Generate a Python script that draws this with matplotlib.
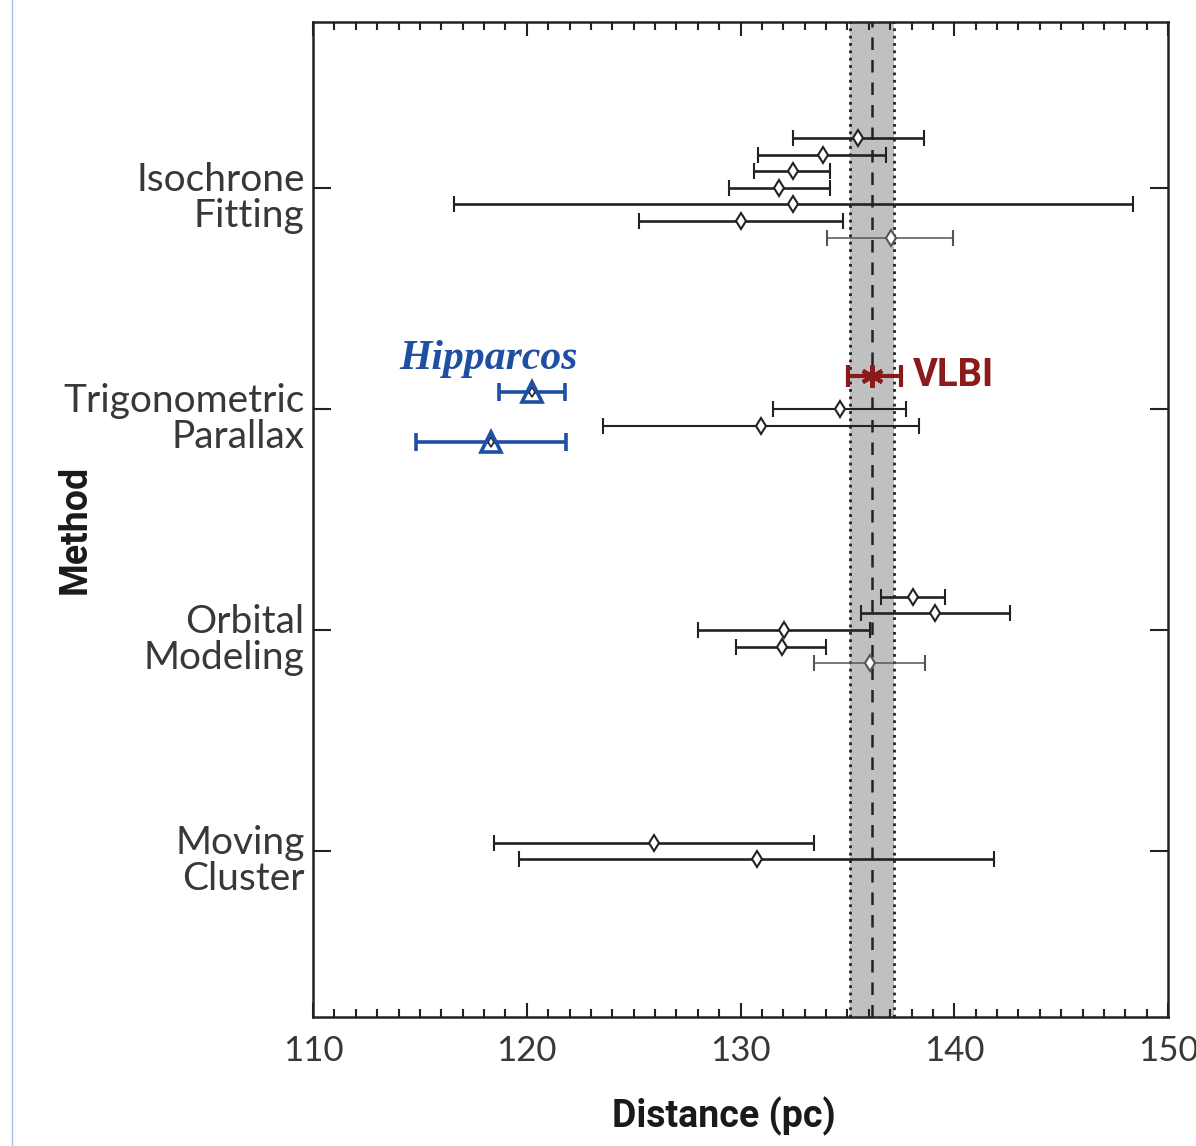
import matplotlib
matplotlib.use("Agg")
import matplotlib.pyplot as plt
from matplotlib.lines import Line2D
from matplotlib.transforms import ScaledTranslation
import numpy as np

# categories (top to bottom)
methods = ["Isochrone\nFitting", "Trigonometric\nParallax", "Orbital\nModeling", "Moving\nCluster"]
method_pos = [4, 3, 2, 1]

# isochrone fitting: distance, lower end, upper end (pc)
iso_dist = [135.5, 133.85, 132.45, 131.8, 132.45, 130.0, 137.05]
iso_lo = [132.45, 130.8, 130.65, 129.45, 116.6, 125.25, 134.05]
iso_hi = [138.6, 136.8, 134.2, 134.2, 148.35, 134.8, 139.95]

# trigonometric parallax (other than Hipparcos / VLBI)
trig_dist = [134.65, 130.95]
trig_lo = [131.5, 123.55]
trig_hi = [137.75, 138.35]

hip_dist = [120.25, 118.35]
hip_lo = [118.7, 114.8]
hip_hi = [121.8, 121.85]

vlbi_dist = 136.15
vlbi_lo = 135.05
vlbi_hi = 137.5
band_lo, band_hi = 135.1, 137.2

# orbital modeling
orb_dist = [138.05, 139.1, 132.05, 131.95, 136.05]
orb_lo = [136.55, 135.65, 128.0, 129.8, 133.45]
orb_hi = [139.55, 142.6, 136.05, 134.0, 138.65]

# moving cluster
mov_dist = [125.95, 130.75]
mov_lo = [118.45, 119.65]
mov_hi = [133.45, 141.85]

step = 0.075
dark = "#222222"
grey = "#555555"
blue = "#1f4fa3"
red = "#8b1a1a"

fig = plt.figure(figsize=(11.96, 11.46), dpi=100)
ax = fig.add_axes([313 / 1196, 1 - 1017 / 1146, 855 / 1196, 995 / 1146])


def bars(ax, d, lo, hi, y, color=dark, lw=1.9, ms=8, cap=5.5):
    d = np.asarray(d)
    err = [d - np.asarray(lo), np.asarray(hi) - d]
    ax.errorbar(d, y, xerr=err, fmt="d", color=color, ecolor=color, lw=lw,
                capsize=cap, capthick=lw + 0.3, ms=ms, mfc="white", mec=color,
                mew=1.5, zorder=3)


# VLBI band
ax.axvspan(band_lo, band_hi, color="#c0c0c0", lw=0, zorder=0)
ax.axvline(band_lo, color=dark, ls=":", lw=2, zorder=1)
ax.axvline(band_hi, color=dark, ls=":", lw=2, zorder=1)
ax.axvline(vlbi_dist, color=dark, lw=1.8, dashes=(5, 4), zorder=1)

# isochrone
n = len(iso_dist)
y_iso = method_pos[0] + step * (3 - np.arange(n))
bars(ax, iso_dist[:-1], iso_lo[:-1], iso_hi[:-1], y_iso[:-1])
bars(ax, iso_dist[-1:], iso_lo[-1:], iso_hi[-1:], y_iso[-1:], color=grey, lw=1.1)

# trig parallax
y_trig = method_pos[1] - step * np.arange(len(trig_dist))
bars(ax, trig_dist, trig_lo, trig_hi, y_trig, lw=1.5)
y_hip = method_pos[1] + step * np.array([1, -2])
hd = np.asarray(hip_dist)
ax.errorbar(hd, y_hip, xerr=[hd - np.asarray(hip_lo), np.asarray(hip_hi) - hd],
            fmt="none", ecolor=blue, lw=2.6, capsize=6.5, capthick=2.6, zorder=3)
ax.plot(hd, y_hip, "d", ms=5, mfc="white", mec=dark, mew=1.2, ls="none", zorder=4)
ax.plot(hd, y_hip, "^", ms=14, mfc="none", mec=blue, mew=2.6, ls="none", zorder=5)
y_vlbi = method_pos[1] + 2 * step
ax.errorbar([vlbi_dist], [y_vlbi], xerr=[[vlbi_dist - vlbi_lo], [vlbi_hi - vlbi_dist]],
            fmt="none", ecolor=red, lw=3, capsize=8, capthick=3, zorder=3)
ax.plot([vlbi_dist], [y_vlbi], marker=(6, 2, 0), ms=16, mec=red, mew=3, ls="none", zorder=4)
ax.text(vlbi_hi + 0.55, y_vlbi, "VLBI", color=red, family="Roboto", weight="bold",
        fontsize=27.5, ha="left", va="center")
ax.text(118.2, y_hip[0] + 0.105, "Hipparcos", color=blue,
        family="Liberation Serif", weight="bold", style="italic", fontsize=30,
        ha="center", va="baseline")

# orbital
n = len(orb_dist)
y_orb = method_pos[2] + step * (2 - np.arange(n))
bars(ax, orb_dist[:-1], orb_lo[:-1], orb_hi[:-1], y_orb[:-1])
bars(ax, orb_dist[-1:], orb_lo[-1:], orb_hi[-1:], y_orb[-1:], color=grey, lw=1.1)

# moving cluster
y_mov = method_pos[3] + step * np.array([0.5, -0.5])
bars(ax, mov_dist, mov_lo, mov_hi, y_mov)

ax.set_xlim(110, 150)
ax.set_ylim(0.25, 4.75)
ax.set_xticks(np.arange(110, 151, 10))
ax.set_xticks(np.arange(110, 151, 1), minor=True)
ax.set_yticks(method_pos)
ax.set_yticklabels(methods, family="Lato", fontsize=28,
                   ha="right", va="center", linespacing=1.0)
ax.set_xticklabels([str(v) for v in range(110, 151, 10)], family="Lato", fontsize=25)
ax.tick_params(axis="x", which="major", direction="in", top=True, bottom=True,
               length=10, width=1.5, color=dark, pad=13, labelcolor="#383838")
ax.tick_params(axis="x", which="minor", direction="in", top=True, bottom=True,
               length=6, width=1.5, color=dark)
ax.tick_params(axis="y", which="major", direction="in", left=True, right=True,
               length=13, width=1.5, color=dark, pad=6, labelcolor="#383838")
for s in ax.spines.values():
    s.set_linewidth(1.8)
    s.set_color(dark)

# method names sit a little below their ticks in the original
for lab in ax.get_yticklabels():
    lab.set_transform(lab.get_transform() + ScaledTranslation(0, -7 / 72, fig.dpi_scale_trans))

ax.set_xlabel("Distance (pc)", family="Roboto", weight="bold", fontsize=27, color="#1a1a1a")
ax.xaxis.set_label_coords(0.48, -0.1)
ax.xaxis.label.set_va("center")
ax.set_ylabel("Method", family="Roboto", weight="bold", fontsize=27, color="#1a1a1a")
ax.yaxis.set_label_coords(-0.278, 0.49)
ax.yaxis.label.set_va("center")

fig.add_artist(Line2D([12 / 1196, 12 / 1196], [0, 1], color="#a9c1ea", lw=1))

fig.savefig("out.png", dpi=100)
